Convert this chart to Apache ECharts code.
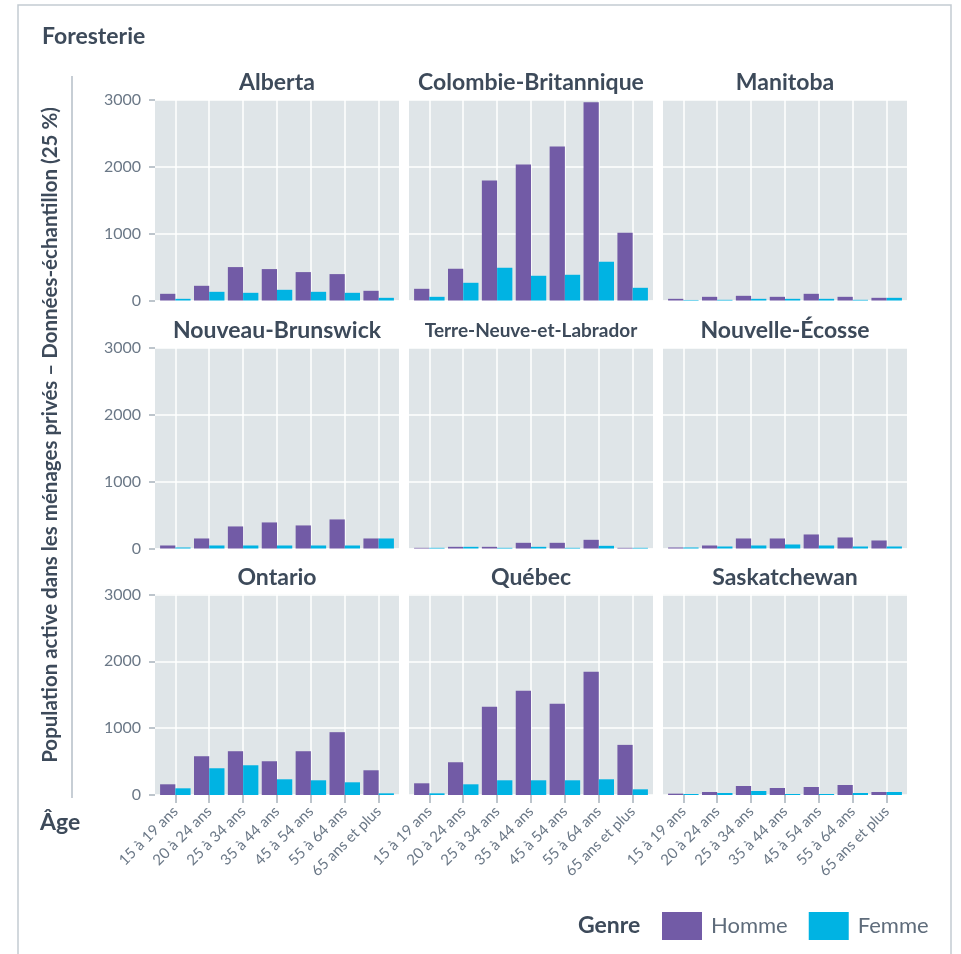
<!DOCTYPE html>
<html><head><meta charset="utf-8">
<script src="https://cdn.jsdelivr.net/npm/echarts@6/dist/echarts.min.js"></script>
<style>html,body{margin:0;padding:0;background:#fff}#c{width:961px;height:954px}</style>
</head><body><div id="c"></div>
<script>
// ---- Data ----
const ages = ['15 à 19 ans','20 à 24 ans','25 à 34 ans','35 à 44 ans','45 à 54 ans','55 à 64 ans','65 ans et plus'];
const provinces = ['Alberta','Colombie-Britannique','Manitoba','Nouveau-Brunswick','Terre-Neuve-et-Labrador','Nouvelle-Écosse','Ontario','Québec','Saskatchewan'];
const yTicks = [0, 1000, 2000, 3000];
const seriesNames = ['Homme', 'Femme'];

const hommeAlberta = [100, 220, 500, 470, 425, 395, 145];
const femmeAlberta = [25, 130, 115, 160, 130, 115, 40];
const hommeColombieBritannique = [175, 475, 1795, 2035, 2305, 2965, 1015];
const femmeColombieBritannique = [55, 265, 490, 370, 385, 580, 190];
const hommeManitoba = [25, 55, 70, 55, 100, 55, 40];
const femmeManitoba = [8, 10, 25, 25, 25, 10, 40];
const hommeNouveauBrunswick = [45, 150, 330, 390, 345, 435, 150];
const femmeNouveauBrunswick = [15, 45, 45, 45, 45, 45, 150];
const hommeTerreNeuve = [10, 25, 25, 85, 85, 130, 10];
const femmeTerreNeuve = [10, 25, 10, 25, 10, 40, 10];
const hommeNouvelleEcosse = [15, 45, 150, 150, 210, 165, 120];
const femmeNouvelleEcosse = [15, 30, 45, 60, 45, 30, 30];
const hommeOntario = [160, 580, 655, 505, 655, 940, 370];
const femmeOntario = [100, 400, 445, 235, 220, 190, 25];
const hommeQuebec = [175, 490, 1320, 1560, 1365, 1845, 750];
const femmeQuebec = [25, 160, 220, 220, 220, 235, 85];
const hommeSaskatchewan = [20, 45, 135, 105, 120, 150, 45];
const femmeSaskatchewan = [15, 30, 60, 15, 15, 30, 45];

const homme = [hommeAlberta, hommeColombieBritannique, hommeManitoba, hommeNouveauBrunswick, hommeTerreNeuve, hommeNouvelleEcosse, hommeOntario, hommeQuebec, hommeSaskatchewan];
const femme = [femmeAlberta, femmeColombieBritannique, femmeManitoba, femmeNouveauBrunswick, femmeTerreNeuve, femmeNouvelleEcosse, femmeOntario, femmeQuebec, femmeSaskatchewan];

// ---- Styles / layout ----
const FONT = 'Lato, "Noto Sans", sans-serif';
const DARK = '#3D4A5A';
const GREY = '#6B7887';
const TICK = '#A8B2BC';
const PURPLE = '#725BA6';
const CYAN = '#00B3E3';
const colLeft = [155, 409, 663], rowTop = [100, 348, 594.5], PW = 244, PH = 200.5;
const catIdx = ages.map((a, k) => k + 1);

const grids = [], xAxes = [], yAxes = [], series = [], graphics = [];
provinces.forEach((p, i) => {
  const r = Math.floor(i / 3), c = i % 3;
  grids.push({left: colLeft[c], top: rowTop[r], width: PW, height: PH, show: true,
    backgroundColor: '#DFE5E8', borderWidth: 0});
  xAxes.push({type: 'value', gridIndex: i, min: 0.4, max: 7.6,
    axisLine: {show: false},
    axisTick: {show: r === 2, length: 8, customValues: catIdx, lineStyle: {color: TICK, width: 1.5}},
    axisLabel: {show: r === 2, customValues: catIdx, rotate: 45, fontSize: 15, color: GREY, margin: 14,
      fontFamily: FONT, formatter: v => ages[Math.round(v) - 1] || ''},
    splitLine: {show: true, lineStyle: {color: '#ffffff', width: 1.5}}
  });
  yAxes.push({type: 'value', gridIndex: i, min: yTicks[0], max: yTicks[yTicks.length - 1], interval: 1000,
    axisLine: {show: false},
    axisTick: {show: c === 0, length: 6, lineStyle: {color: TICK, width: 1.5}},
    axisLabel: {show: c === 0, fontSize: 16, color: GREY, margin: 14, fontFamily: FONT, formatter: v => String(v)},
    splitLine: {show: true, lineStyle: {color: '#ffffff', width: 1.5}}
  });
  [homme[i], femme[i]].forEach((arr, s) => {
    series.push({type: 'bar', name: seriesNames[s], xAxisIndex: i, yAxisIndex: i,
      data: arr.map((v, k) => [catIdx[k], v]),
      barGap: '0%', barCategoryGap: '10%',
      itemStyle: {color: s === 0 ? PURPLE : CYAN},
      emphasis: {disabled: true}
    });
  });
  graphics.push({type: 'text', x: colLeft[c] + PW / 2, y: rowTop[r] - 17,
    style: {text: p, textAlign: 'center', textVerticalAlign: 'middle',
      fontSize: p.length > 21 ? 19 : 23, fontWeight: 'bold', fontFamily: FONT, fill: DARK}});
});

graphics.push(
  {type: 'rect', shape: {x: 18, y: 5, width: 933, height: 1000}, style: {fill: 'none', stroke: '#C3CBD2', lineWidth: 1.5}, silent: true},
  {type: 'text', x: 42, y: 37, style: {text: 'Foresterie', textVerticalAlign: 'middle', fontSize: 23, fontWeight: 'bold', fontFamily: FONT, fill: DARK}},
  {type: 'line', shape: {x1: 72, y1: 76, x2: 72, y2: 798}, style: {stroke: '#B5BEC7', lineWidth: 1.5}},
  {type: 'text', x: 50, y: 435, rotation: Math.PI / 2,
    style: {text: 'Population active dans les ménages privés – Données-échantillon (25 %)', textAlign: 'center', textVerticalAlign: 'middle',
      fontSize: 20.5, fontWeight: 'bold', fontFamily: FONT, fill: DARK}},
  {type: 'text', x: 40, y: 823, style: {text: 'Âge', textVerticalAlign: 'middle', fontSize: 23, fontWeight: 'bold', fontFamily: FONT, fill: DARK}},
  {type: 'text', x: 578, y: 926, style: {text: 'Genre', textVerticalAlign: 'middle', fontSize: 23, fontWeight: 'bold', fontFamily: FONT, fill: DARK}}
);

const chart = echarts.init(document.getElementById('c'), null, {renderer: 'canvas'});
chart.setOption({
  animation: false,
  backgroundColor: '#ffffff',
  grid: grids, xAxis: xAxes, yAxis: yAxes, series: series,
  legend: {data: seriesNames, left: 662, top: 912, padding: 0, icon: 'rect', itemWidth: 40, itemHeight: 28, itemGap: 21,
    selectedMode: false, textStyle: {fontSize: 22, color: '#5F6C7B', fontFamily: FONT, padding: [0, 0, 0, 4]}},
  graphic: graphics
});
</script></body></html>
